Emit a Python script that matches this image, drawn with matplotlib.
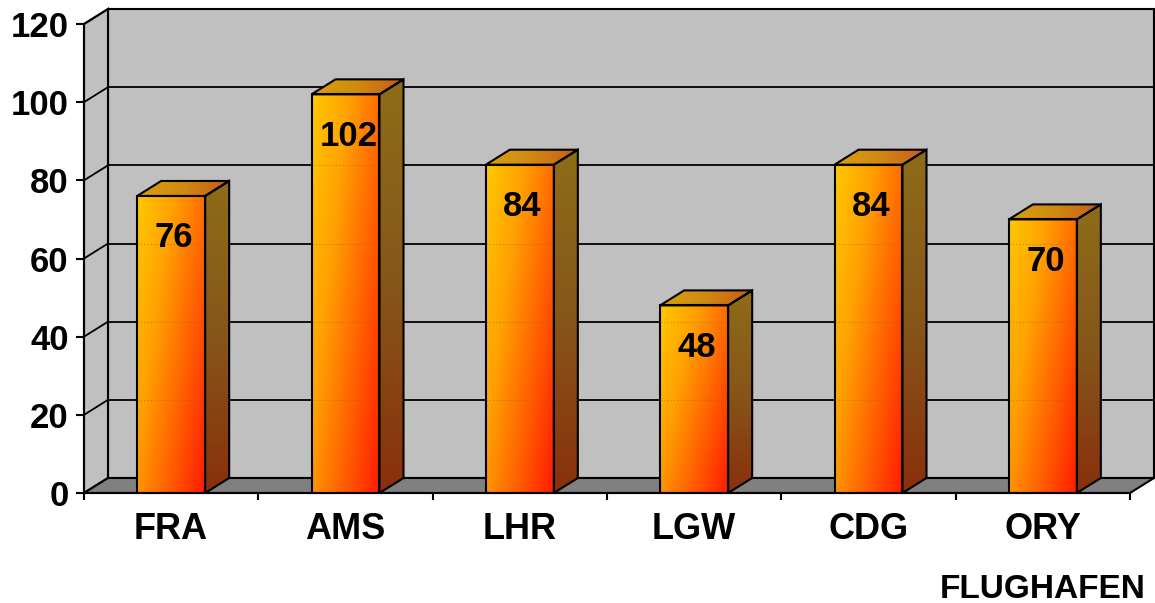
import numpy as np
import matplotlib.pyplot as plt
from matplotlib.patches import Polygon
from matplotlib.colors import LinearSegmentedColormap

plt.rcParams['font.family'] = ['Liberation Sans', 'DejaVu Sans']
plt.rcParams['font.weight'] = 'bold'

airports = ['FRA', 'AMS', 'LHR', 'LGW', 'CDG', 'ORY']
values = [76, 102, 84, 48, 84, 70]
yticks = [0, 20, 40, 60, 80, 100, 120]

W, H = 1155, 603
fig = plt.figure(figsize=(W / 100, H / 100), dpi=100)
ax = fig.add_axes([84 / W, 110 / H, 1046 / W, 469 / H])
ax.set_xlim(0, len(airports))
ax.set_ylim(0, 120)
ax.set_facecolor('none')

# depth of the 3d box in data units (24 px right, 15 px up)
dx = 24 / (1046 / len(airports))
dy = 15 / (469 / 120)
n = len(airports)

# walls and floor
wall = dict(facecolor='#c0c0c0', edgecolor='black', lw=1.5, clip_on=False, zorder=0)
ax.add_patch(Polygon([(dx, dy), (n + dx, dy), (n + dx, 120 + dy), (dx, 120 + dy)], **wall))
ax.add_patch(Polygon([(0, 0), (dx, dy), (dx, 120 + dy), (0, 120)], **wall))
ax.add_patch(Polygon([(0, 0), (n, 0), (n + dx, dy), (dx, dy)],
                     facecolor='#808080', edgecolor='black', lw=1.5, clip_on=False, zorder=0.5))
for t in yticks[1:]:
    ax.plot([dx, n + dx], [t + dy, t + dy], color='black', lw=1.3, clip_on=False, zorder=0.2)
    ax.plot([0, dx], [t, t + dy], color='black', lw=1.3, clip_on=False, zorder=0.2)

front_cmap = LinearSegmentedColormap.from_list('front', ['#ffc800', '#ffa000', '#ff6000', '#ff1c00'])
side_cmap = LinearSegmentedColormap.from_list('side', ['#8e6c18', '#86561a', '#8a300c'])
top_cmap = LinearSegmentedColormap.from_list('top', ['#d8a00c', '#d08a10', '#c85a1a'])

g = np.linspace(0, 1, 80)
U, V = np.meshgrid(g, g)


def shade(verts, cmap, t, z):
    poly = Polygon(verts, closed=True, facecolor='none', edgecolor='black', lw=1.5, zorder=z + 0.1)
    ax.add_patch(poly)
    xs = [p[0] for p in verts]
    ys = [p[1] for p in verts]
    im = ax.imshow(t, cmap=cmap, vmin=0, vmax=1, origin='lower', aspect='auto',
                   extent=[min(xs), max(xs), min(ys), max(ys)], interpolation='bilinear', zorder=z)
    im.set_clip_path(poly)


bw = 0.39
for i, v in enumerate(values):
    x0, x1 = i + 0.5 - bw / 2, i + 0.5 + bw / 2
    z = 2 + i
    shade([(x0, 0), (x1, 0), (x1, v), (x0, v)], front_cmap, 0.6 * U + 0.4 * (1 - V), z)
    shade([(x1, 0), (x1 + dx, dy), (x1 + dx, v + dy), (x1, v)], side_cmap, 1 - V, z)
    shade([(x0, v), (x1, v), (x1 + dx, v + dy), (x0 + dx, v + dy)], top_cmap, U, z)
    # back gridlines showing faintly through the bar
    for t in yticks[1:]:
        if t + dy < v:
            ax.plot([x0, x1], [t + dy, t + dy], color='#806040', lw=0.8,
                    ls=(0, (1, 2)), alpha=0.5, zorder=z + 0.05)
    ax.annotate(str(v), (i + 0.5, v), xytext=(2, -30), textcoords='offset points',
                ha='center', va='center', fontsize=25, fontweight='bold', zorder=20)

ax.set_ylim(0, 120)
ax.set_xlim(0, n)
for s in ['top', 'right']:
    ax.spines[s].set_visible(False)
ax.spines['left'].set_linewidth(1.5)
ax.spines['bottom'].set_linewidth(1.5)
ax.spines['left'].set_zorder(30)
ax.spines['bottom'].set_zorder(30)

ax.set_yticks(yticks)
ax.set_yticklabels([str(t) for t in yticks], fontsize=25, fontweight='bold')
ax.tick_params(axis='y', length=6, width=1.5, pad=5)
ax.set_xticks(range(n + 1))
ax.set_xticklabels([])
ax.tick_params(axis='x', which='major', length=5, width=1.5)
ax.set_xticks([i + 0.5 for i in range(n)], minor=True)
ax.set_xticklabels(airports, minor=True, fontsize=26, fontweight='bold')
ax.tick_params(axis='x', which='minor', length=0, pad=14)

fig.text(1146 / W, 1 - 589 / H, 'FLUGHAFEN', ha='right', va='center', fontsize=24, fontweight='bold')

fig.savefig('out.png', dpi=100)
